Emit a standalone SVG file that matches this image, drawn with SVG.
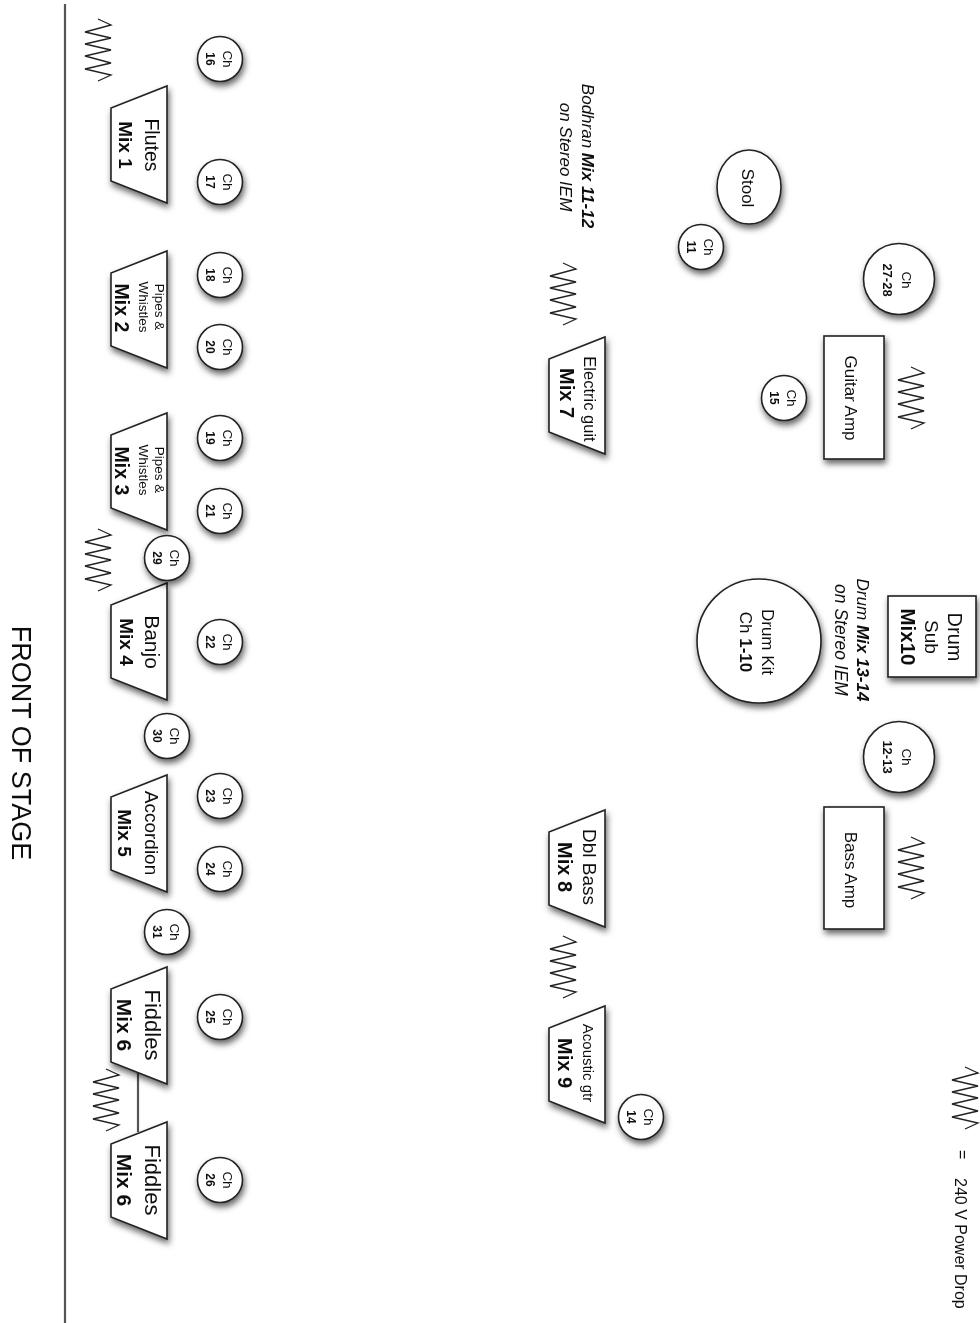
<svg xmlns="http://www.w3.org/2000/svg" width="980" height="1323" viewBox="0 0 980 1323">
<style>
text{font-family:"Liberation Sans",Arial,sans-serif;fill:#111}
.b{font-weight:bold}
.i{font-style:italic}
.m{text-anchor:middle}
.s{fill:#fff;stroke:#222;stroke-width:1.6;filter:url(#sh)}
.z{fill:none;stroke:#222;stroke-width:1.3}
</style>
<defs>
<filter id="sh" x="-30%" y="-30%" width="160%" height="170%"><feDropShadow dx="1.5" dy="4" stdDeviation="3" flood-color="#000" flood-opacity="0.6"/></filter>
<filter id="soft" filterUnits="userSpaceOnUse" x="0" y="0" width="980" height="1323"><feGaussianBlur stdDeviation="0.5"/></filter>
<polyline id="zig" class="z" points="13,0 26,6 0,13 26,19 0,25 26,31 0,37 26,44 0,50 26,56 13,62"/>
<polygon id="trap" class="s" points="56,0 56,117 0,95 0,22"/>
<circle id="ch" class="s" r="22.5"/>
</defs>
<rect width="980" height="1323" fill="#fff"/>
<g filter="url(#soft)">
<g id="connectors">
<line id="fiddles-link" x1="138" y1="1072" x2="138" y2="1132" stroke="#555" stroke-width="2.2"/>
</g>
<line id="stage-line" x1="65" y1="4" x2="65" y2="1323" stroke="#555" stroke-width="2.2"/>
<text id="front" class="m" font-size="27" transform="translate(12 743) rotate(90)">FRONT OF STAGE</text>
<g id="power">
<use href="#zig" x="85" y="19"/><use href="#zig" x="85" y="529"/><use href="#zig" x="93" y="1069"/>
<use href="#zig" x="550" y="263"/><use href="#zig" x="550" y="936"/>
<use href="#zig" x="898" y="367"/><use href="#zig" x="898" y="837"/><use href="#zig" x="952" y="1067"/>
</g>
<g id="mix1"><use href="#trap" x="111" y="86"/><text class="m" font-size="19.5" transform="translate(145 145) rotate(90)">Flutes</text><text class="m b" font-size="19" transform="translate(119 145) rotate(90)">Mix 1</text></g>
<g id="mix2"><use href="#trap" x="111" y="251"/><text class="m" font-size="13.5" transform="translate(155 307) rotate(90)">Pipes &amp;</text><text class="m" font-size="13.5" transform="translate(139 307) rotate(90)">Whistles</text><text class="m b" font-size="19.5" transform="translate(115 308) rotate(90)">Mix 2</text></g>
<g id="mix3"><use href="#trap" x="111" y="413"/><text class="m" font-size="13.5" transform="translate(155 470) rotate(90)">Pipes &amp;</text><text class="m" font-size="13.5" transform="translate(139 470) rotate(90)">Whistles</text><text class="m b" font-size="19.5" transform="translate(115 471) rotate(90)">Mix 3</text></g>
<g id="mix4"><use href="#trap" x="111" y="583"/><text class="m" font-size="21" transform="translate(145 642) rotate(90)">Banjo</text><text class="m b" font-size="19" transform="translate(120 642) rotate(90)">Mix 4</text></g>
<g id="mix5"><use href="#trap" x="111" y="775"/><text class="m" font-size="19" transform="translate(145 833) rotate(90)">Accordion</text><text class="m b" font-size="19" transform="translate(118 833) rotate(90)">Mix 5</text></g>
<g id="mix6a"><use href="#trap" x="111" y="967"/><text class="m" font-size="22" transform="translate(145 1025) rotate(90)">Fiddles</text><text class="m b" font-size="21" transform="translate(117 1025) rotate(90)">Mix 6</text></g>
<g id="mix6b"><use href="#trap" x="111" y="1122"/><text class="m" font-size="22" transform="translate(145 1180) rotate(90)">Fiddles</text><text class="m b" font-size="21" transform="translate(117 1180) rotate(90)">Mix 6</text></g>
<g id="mix7"><use href="#trap" x="549" y="337"/><text class="m" font-size="16.5" transform="translate(584 399) rotate(90)">Electric guit</text><text class="m b" font-size="20" transform="translate(560 393) rotate(90)">Mix 7</text></g>
<g id="mix8"><use href="#trap" x="549" y="810"/><text class="m" font-size="19" transform="translate(583 867) rotate(90)">Dbl Bass</text><text class="m b" font-size="20" transform="translate(558 867) rotate(90)">Mix 8</text></g>
<g id="mix9"><use href="#trap" x="549" y="1006"/><text class="m" font-size="15" transform="translate(583 1063) rotate(90)">Acoustic gtr</text><text class="m b" font-size="20" transform="translate(558 1063) rotate(90)">Mix 9</text></g>
<g id="ch16"><use href="#ch" x="220" y="59"/><text class="m" font-size="13.5" transform="translate(223 59) rotate(90)">Ch</text><text class="m b" font-size="12" transform="translate(206 59) rotate(90)">16</text></g>
<g id="ch17"><use href="#ch" x="220" y="182"/><text class="m" font-size="13.5" transform="translate(223 182) rotate(90)">Ch</text><text class="m b" font-size="12" transform="translate(206 182) rotate(90)">17</text></g>
<g id="ch18"><use href="#ch" x="220" y="275"/><text class="m" font-size="13.5" transform="translate(223 275) rotate(90)">Ch</text><text class="m b" font-size="12" transform="translate(206 275) rotate(90)">18</text></g>
<g id="ch20"><use href="#ch" x="220" y="347"/><text class="m" font-size="13.5" transform="translate(223 347) rotate(90)">Ch</text><text class="m b" font-size="12" transform="translate(206 347) rotate(90)">20</text></g>
<g id="ch19"><use href="#ch" x="220" y="438"/><text class="m" font-size="13.5" transform="translate(223 438) rotate(90)">Ch</text><text class="m b" font-size="12" transform="translate(206 438) rotate(90)">19</text></g>
<g id="ch21"><use href="#ch" x="220" y="511"/><text class="m" font-size="13.5" transform="translate(223 511) rotate(90)">Ch</text><text class="m b" font-size="12" transform="translate(206 511) rotate(90)">21</text></g>
<g id="ch29"><use href="#ch" x="167" y="558"/><text class="m" font-size="13.5" transform="translate(170 558) rotate(90)">Ch</text><text class="m b" font-size="12" transform="translate(153 558) rotate(90)">29</text></g>
<g id="ch22"><use href="#ch" x="220" y="642"/><text class="m" font-size="13.5" transform="translate(223 642) rotate(90)">Ch</text><text class="m b" font-size="12" transform="translate(206 642) rotate(90)">22</text></g>
<g id="ch30"><use href="#ch" x="167" y="736"/><text class="m" font-size="13.5" transform="translate(170 736) rotate(90)">Ch</text><text class="m b" font-size="12" transform="translate(153 736) rotate(90)">30</text></g>
<g id="ch23"><use href="#ch" x="220" y="796"/><text class="m" font-size="13.5" transform="translate(223 796) rotate(90)">Ch</text><text class="m b" font-size="12" transform="translate(206 796) rotate(90)">23</text></g>
<g id="ch24"><use href="#ch" x="220" y="869"/><text class="m" font-size="13.5" transform="translate(223 869) rotate(90)">Ch</text><text class="m b" font-size="12" transform="translate(206 869) rotate(90)">24</text></g>
<g id="ch31"><use href="#ch" x="167" y="932"/><text class="m" font-size="13.5" transform="translate(170 932) rotate(90)">Ch</text><text class="m b" font-size="12" transform="translate(153 932) rotate(90)">31</text></g>
<g id="ch25"><use href="#ch" x="220" y="1017"/><text class="m" font-size="13.5" transform="translate(223 1017) rotate(90)">Ch</text><text class="m b" font-size="12" transform="translate(206 1017) rotate(90)">25</text></g>
<g id="ch26"><use href="#ch" x="220" y="1180"/><text class="m" font-size="13.5" transform="translate(223 1180) rotate(90)">Ch</text><text class="m b" font-size="12" transform="translate(206 1180) rotate(90)">26</text></g>
<g id="ch11"><use href="#ch" x="701" y="247"/><text class="m" font-size="13.5" transform="translate(704 247) rotate(90)">Ch</text><text class="m b" font-size="12" transform="translate(687 247) rotate(90)">11</text></g>
<g id="ch15"><use href="#ch" x="784" y="398"/><text class="m" font-size="13.5" transform="translate(787 398) rotate(90)">Ch</text><text class="m b" font-size="12" transform="translate(770 398) rotate(90)">15</text></g>
<g id="ch14"><use href="#ch" x="641" y="1117"/><text class="m" font-size="13.5" transform="translate(644 1117) rotate(90)">Ch</text><text class="m b" font-size="12" transform="translate(627 1117) rotate(90)">14</text></g>
<g id="ch27-28"><circle class="s" cx="899" cy="279" r="35.5"/><text class="m" font-size="13.5" transform="translate(902 280) rotate(90)">Ch</text><text class="m b" font-size="13" transform="translate(883 280) rotate(90)">27-28</text></g>
<g id="ch12-13"><circle class="s" cx="899" cy="757" r="35.5"/><text class="m" font-size="13.5" transform="translate(902 757) rotate(90)">Ch</text><text class="m b" font-size="13" transform="translate(883 757) rotate(90)">12-13</text></g>
<g id="stool"><ellipse class="s" cx="749" cy="187" rx="32" ry="37"/><text class="m" font-size="17" transform="translate(742 188) rotate(90)">Stool</text></g>
<g id="guitar-amp"><rect class="s" x="824" y="336" width="60" height="123"/><text class="m" font-size="17" transform="translate(845 398) rotate(90)">Guitar Amp</text></g>
<g id="bass-amp"><rect class="s" x="824" y="807" width="60" height="122"/><text class="m" font-size="17" transform="translate(845 870) rotate(90)">Bass Amp</text></g>
<g id="drum-sub"><rect class="s" x="888" y="596" width="88" height="81"/><text class="m" font-size="20" transform="translate(948 637) rotate(90)">Drum</text><text class="m" font-size="19" transform="translate(925 637) rotate(90)">Sub</text><text class="m b" font-size="20.5" transform="translate(901 637) rotate(90)">Mix10</text></g>
<g id="drum-kit"><circle class="s" cx="759" cy="641" r="62"/><text class="m" font-size="17" transform="translate(762 642) rotate(90)">Drum Kit</text><text class="m" font-size="17" transform="translate(740 642) rotate(90)">Ch <tspan class="b">1-10</tspan></text></g>
<text id="bodhran1" class="m i" font-size="17" transform="translate(582 156) rotate(90)">Bodhran <tspan class="b">Mix 11-12</tspan></text>
<text id="bodhran2" class="m i" font-size="17" transform="translate(560 157) rotate(90)">on Stereo IEM</text>
<text id="drum1" class="m i" font-size="17" transform="translate(857 640) rotate(90)">Drum <tspan class="b">Mix 13-14</tspan></text>
<text id="drum2" class="m i" font-size="17.5" transform="translate(835 640) rotate(90)">on Stereo IEM</text>
<g id="legend"><text font-size="16" transform="translate(957 1150) rotate(90)">=</text><text font-size="16" transform="translate(955 1178) rotate(90)">240 V Power Drop</text></g>
</g>
</svg>
